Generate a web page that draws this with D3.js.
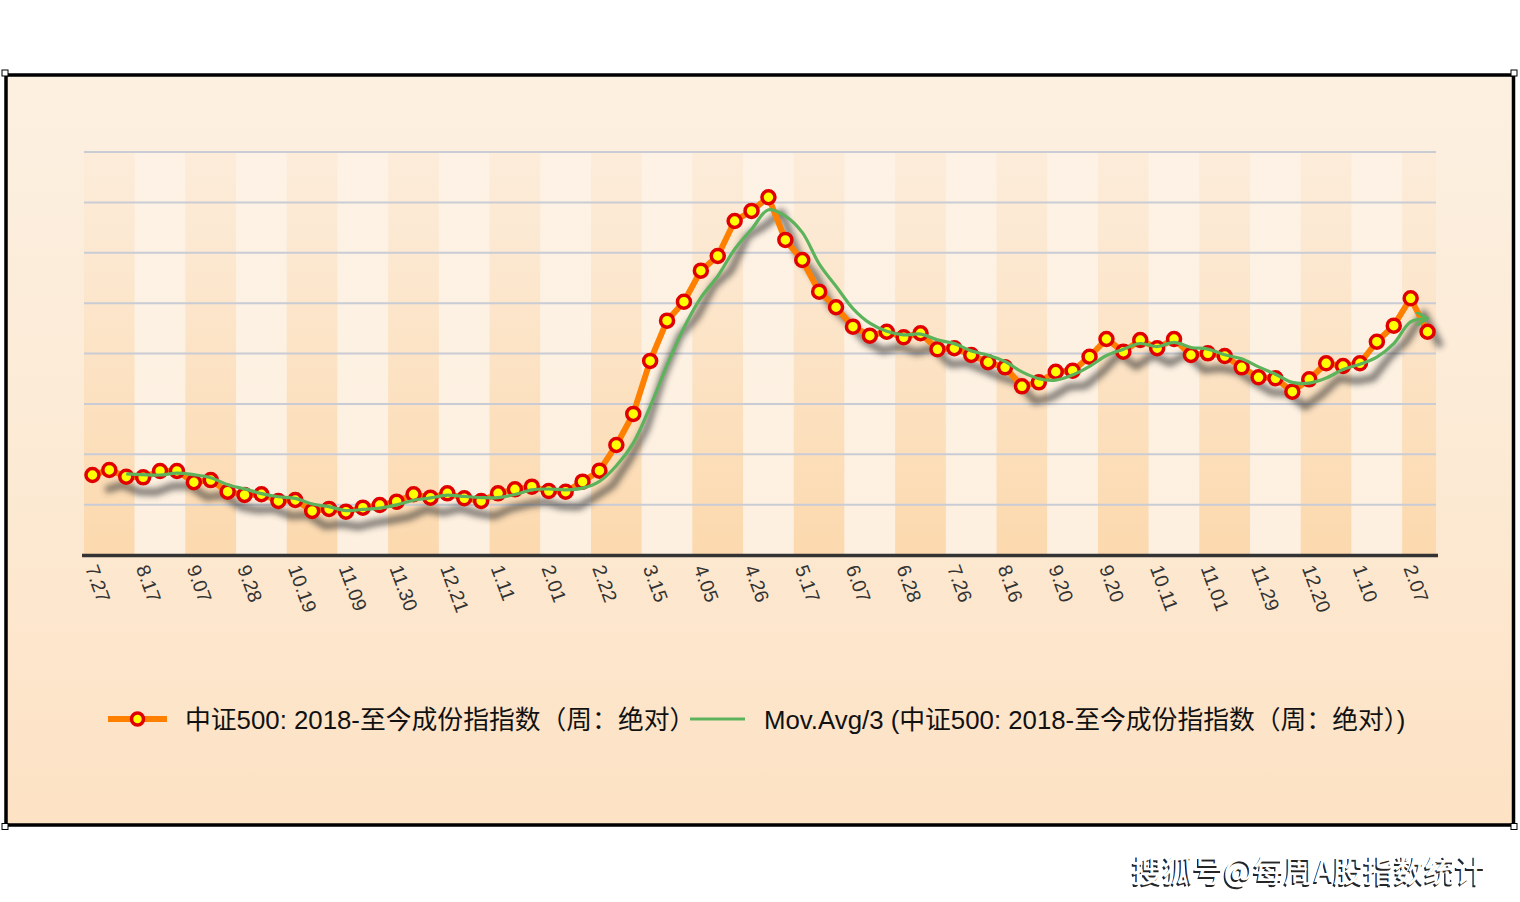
<!DOCTYPE html>
<html><head><meta charset="utf-8">
<script src="https://cdn.jsdelivr.net/npm/d3@7"></script>
<style>html,body{margin:0;padding:0;background:#fff;} svg{display:block}</style>
</head><body>
<svg id="chart" width="1520" height="902"></svg>
<script>
// ---- data ----
const labels = ["7.27","8.17","9.07","9.28","10.19","11.09","11.30","12.21","1.11","2.01","2.22","3.15","4.05","4.26","5.17","6.07","6.28","7.26","8.16","9.20","9.20","10.11","11.01","11.29","12.20","1.10","2.07"];
const values = [2794,2844,2777,2771,2834,2834,2722,2744,2628,2596,
  2603,2536,2546,2437,2457,2430,2470,2496,2529,2603,
  2569,2612,2563,2536,2612,2652,2678,2635,2628,2728,
  2837,3092,3400,3926,4326,4514,4822,4968,5315,5415,
  5551,5127,4928,4614,4459,4266,4177,4216,4161,4201,
  4042,4052,3985,3913,3863,3674,3714,3819,3829,3968,
  4144,4018,4134,4052,4144,3985,4002,3975,3863,3764,
  3754,3621,3744,3903,3876,3903,4117,4276,4548,4216];
const movAvg = [null,null,
  2805,2797,2794,2813,2797,2767,2698,2656,2609,2578,
  2562,2506,2480,2441,2452,2465,2498,2543,2567,2595,
  2581,2570,2570,2600,2647,2655,2647,2664,2731,2886,
  3110,3473,3884,4255,4554,4768,5035,5233,5427,5364,
  5202,4890,4667,4446,4301,4220,4185,4193,4135,4098,
  4026,3983,3920,3817,3750,3736,3787,3872,3980,4043,
  4099,4068,4110,4060,4044,3987,3947,3867,3794,3713,
  3706,3756,3841,3894,3965,4099,4314,4347];
const weeksPerLabel = 3;
const seriesName = "中证500: 2018-至今成份指指数（周：绝对）";
const avgName = "Mov.Avg/3 (中证500: 2018-至今成份指指数（周：绝对）)";
const watermark = "搜狐号@每周A股指数统计";

// ---- setup ----
const svg = d3.select("#chart");
const defs = svg.append("defs");
const latin = "'Liberation Sans', Arial, 'Noto Sans CJK SC', sans-serif";

function vGrad(id, stops) {
  const g = defs.append("linearGradient").attr("id", id)
    .attr("x1", 0).attr("y1", 0).attr("x2", 0).attr("y2", 1);
  stops.forEach(s => g.append("stop").attr("offset", s[0]).attr("stop-color", s[1]));
}
vGrad("bgGrad", [["0%", "#fcf0e1"], ["45%", "#fcebd6"], ["100%", "#fde2c4"]]);
vGrad("bandDark", [["0%", "#fcecd9"], ["20%", "#fce9d3"], ["100%", "#fcd9ae"]]);
vGrad("bandLight", [["0%", "#fdf2e5"], ["100%", "#fdf0e0"]]);

const blur = defs.append("filter").attr("id", "blur").attr("x", "-10%").attr("y", "-10%").attr("width", "120%").attr("height", "120%");
blur.append("feGaussianBlur").attr("stdDeviation", 3);
const blurS = defs.append("filter").attr("id", "blurS").attr("x", "-20%").attr("y", "-100%").attr("width", "140%").attr("height", "300%");
blurS.append("feGaussianBlur").attr("stdDeviation", 2);

defs.append("marker").attr("id", "arrow")
  .attr("markerUnits", "userSpaceOnUse")
  .attr("viewBox", "0 0 14 14").attr("refX", 12).attr("refY", 7)
  .attr("markerWidth", 14).attr("markerHeight", 14).attr("orient", "auto")
  .append("path").attr("d", "M2,1 L12,7 L2,13")
  .attr("fill", "none").attr("stroke", "#5cb35c").attr("stroke-width", 3)
  .attr("stroke-linecap", "round").attr("stroke-linejoin", "round");

// frame
const F = {x: 6, y: 75, w: 1507.5, h: 750};
svg.append("rect").attr("x", F.x).attr("y", F.y).attr("width", F.w).attr("height", F.h)
  .attr("fill", "url(#bgGrad)").attr("stroke", "#000").attr("stroke-width", 3.5);

// scales
const x = d3.scaleBand().domain(d3.range(values.length)).range([84, 1436]).padding(0);
const bw = x.bandwidth();
const cx = i => x(i) + bw / 2;
const y = d3.scaleLinear().domain([2000, 6000]).range([555, 152]);

// bands
const plot = svg.append("g");
labels.forEach((lab, j) => {
  const i0 = j * weeksPerLabel;
  const i1 = Math.min(i0 + weeksPerLabel, values.length);
  const x0 = x(i0), x1 = i1 >= values.length ? x.range()[1] : x(i1);
  plot.append("rect").attr("x", x0).attr("y", y(6000)).attr("width", x1 - x0)
    .attr("height", y(2000) - y(6000))
    .attr("fill", j % 2 === 0 ? "url(#bandDark)" : "url(#bandLight)");
});

// gridlines
y.ticks(8).filter(v => v > 2000).forEach(v => {
  plot.append("line").attr("x1", 84).attr("x2", 1436).attr("y1", y(v)).attr("y2", y(v))
    .attr("stroke", "#c9ccd4").attr("stroke-width", 2);
});

// axis
plot.append("line").attr("x1", 82).attr("x2", 1438).attr("y1", y(2000) + 0.5).attr("y2", y(2000) + 0.5)
  .attr("stroke", "#333").attr("stroke-width", 3.5);

// tick labels
labels.forEach((lab, j) => {
  const i0 = j * weeksPerLabel;
  plot.append("text").attr("transform", `translate(${x(i0) + 1},568) rotate(70)`)
    .attr("font-family", latin).attr("font-size", 19.5).attr("fill", "#333")
    .text(lab);
});

// lines
const line = d3.line().x((d, i) => cx(i)).y(d => y(d));
plot.append("path").datum(values).attr("d", line)
  .attr("transform", "translate(13,15)")
  .attr("fill", "none").attr("stroke", "#333").attr("stroke-width", 7)
  .attr("stroke-linejoin", "round").attr("opacity", 0.65).attr("filter", "url(#blur)");
plot.append("path").datum(values).attr("d", line)
  .attr("fill", "none").attr("stroke", "#ff8000").attr("stroke-width", 6)
  .attr("stroke-linejoin", "round");
plot.selectAll("circle.pt").data(values).join("circle").attr("class", "pt")
  .attr("cx", (d, i) => cx(i)).attr("cy", d => y(d)).attr("r", 6.5)
  .attr("fill", "#ffff00").attr("stroke", "#e00000").attr("stroke-width", 3.5);

const maLine = d3.line().defined(d => d != null).x((d, i) => cx(i)).y(d => y(d))
  .curve(d3.curveCatmullRom.alpha(0.5));
plot.append("path").datum(movAvg).attr("d", maLine)
  .attr("fill", "none").attr("stroke", "#5cb35c").attr("stroke-width", 3.2)
  .attr("stroke-linejoin", "round").attr("marker-end", "url(#arrow)");

// legend
const ly = 719;
const lg = svg.append("g");
lg.append("line").attr("x1", 114).attr("x2", 173).attr("y1", ly + 7).attr("y2", ly + 7)
  .attr("stroke", "#333").attr("stroke-width", 6).attr("opacity", 0.6).attr("filter", "url(#blurS)");
lg.append("line").attr("x1", 108).attr("x2", 167).attr("y1", ly).attr("y2", ly)
  .attr("stroke", "#ff8000").attr("stroke-width", 6);
lg.append("circle").attr("cx", 137.5).attr("cy", ly).attr("r", 6)
  .attr("fill", "#ffff00").attr("stroke", "#e00000").attr("stroke-width", 3.5);
lg.append("text").attr("x", 185).attr("y", ly + 10).attr("font-family", latin)
  .attr("font-size", 25.8).attr("fill", "#111").text(seriesName);
lg.append("line").attr("x1", 690).attr("x2", 745).attr("y1", ly).attr("y2", ly)
  .attr("stroke", "#5cb35c").attr("stroke-width", 3);
lg.append("text").attr("x", 764).attr("y", ly + 10).attr("font-family", latin)
  .attr("font-size", 25.8).attr("fill", "#111").text(avgName);

// corner handles
[[F.x - 1, F.y - 2], [F.x + F.w + 0.5, F.y - 2], [F.x - 1, F.y + F.h + 1.5], [F.x + F.w + 0.5, F.y + F.h + 1.5]].forEach(p => {
  svg.append("rect").attr("x", p[0] - 3).attr("y", p[1] - 3).attr("width", 6).attr("height", 6)
    .attr("fill", "#fff").attr("stroke", "#000").attr("stroke-width", 1);
});

// watermark
const wm = svg.append("g").attr("font-family", "'Noto Sans CJK SC', sans-serif")
  .attr("font-size", 30.5).attr("font-weight", 500);
wm.append("text").attr("x", 1130.5).attr("y", 883.5).attr("fill", "#000").attr("opacity", 0.85).text(watermark);
wm.append("text").attr("x", 1132).attr("y", 882).attr("fill", "#fff").text(watermark);
</script>
</body></html>
